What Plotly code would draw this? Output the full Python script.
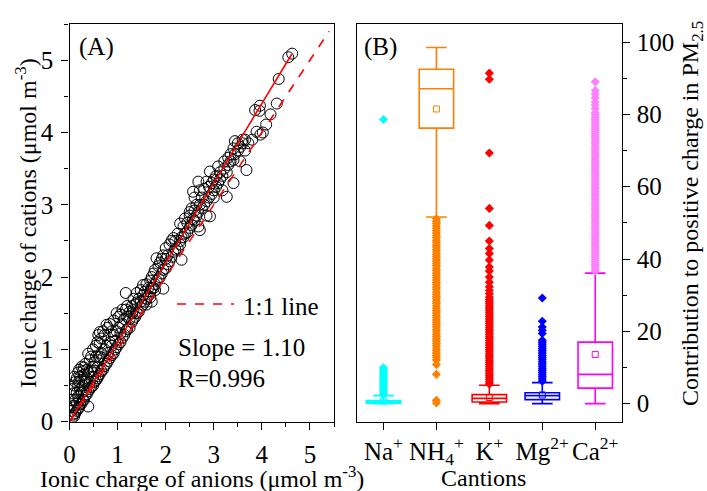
import plotly.graph_objects as go

# ---------------- Panel A data ----------------
anion = [0.05,0.05,0.05,0.05, 0.08,0.08,0.08, 0.1,0.1,0.1,0.1, 0.12,0.12,0.12, 0.15,0.15,0.15,0.15,
         0.18,0.18,0.18,0.18, 0.2,0.2,0.2,0.2, 0.22,0.22,0.22, 0.25,0.25,0.25,0.25, 0.28,0.28,0.28,
         0.3,0.3,0.3,0.3, 0.33,0.33,0.33, 0.36,0.36,0.36, 0.39,0.39,0.39,0.39, 0.42,0.42,0.42,
         0.45,0.45,0.45, 0.49,0.49,0.49,0.49, 0.52,0.52,0.52, 0.55,0.55,0.55, 0.58,0.58,0.58,
         0.6,0.6,0.6, 0.63,0.63,0.63,0.63, 0.66,0.66,0.66, 0.7,0.7,0.7, 0.73,0.73,0.73,
         0.77,0.77,0.77, 0.8,0.8,0.8, 0.84,0.84,0.84, 0.88,0.88,0.88, 0.92,0.92,0.92, 0.95,0.95,
         0.98,0.98,0.98, 1.02,1.02,1.02, 1.06,1.06,1.06, 1.1,1.1,1.1, 1.14,1.14, 1.17,1.17,1.17,
         1.2,1.2,1.2, 1.25,1.25,1.25, 1.3,1.3,1.3, 1.33,1.33,1.33, 1.37,1.37, 1.4,1.4,1.4,
         1.44,1.44, 1.48,1.48,1.48, 1.53,1.53,1.53, 1.57,1.57, 1.6,1.6,1.6, 1.64,1.64,
         1.68,1.68,1.68, 1.71,1.71,1.71, 1.75,1.75, 1.78,1.78,1.78, 1.81,1.81, 1.85,1.85,
         1.88,1.88, 1.92,1.92, 1.95,1.95,1.95, 2.0,2.0,2.0, 2.04,2.04, 2.08,2.08, 2.12,2.12,
         2.16,2.16, 2.2,2.2, 2.25,2.25, 2.3,2.3,2.3, 2.33,2.33, 2.37,2.37, 2.4,2.4, 2.45,2.45,
         2.5,2.5,2.5, 2.54,2.54, 2.57,2.57, 2.6,2.6,2.6, 2.64,2.64, 2.68,2.68,2.68, 2.71,2.71,2.71,
         2.75,2.75, 2.8,2.8, 2.85,2.85,2.85, 2.9,2.9, 2.92,2.92, 2.96,2.96, 3.0,3.0,3.0,
         3.05,3.05, 3.09,3.09, 3.13,3.13, 3.18,3.18, 3.22,3.22, 3.27,3.27, 3.3,3.3, 3.35,3.35,
         3.41,3.41,3.41, 3.44,3.44, 3.5,3.5, 3.55,3.55, 3.6,3.6, 3.65,3.65, 3.68, 3.72, 3.8,
         3.86, 3.89, 3.95, 3.96, 3.97, 4.02, 4.09, 4.18, 4.31, 4.35, 4.55, 4.63]
cation = [0.05,0.15,0.3,0.45, 0.1,0.39,0.22, 0.08,0.2,0.5,0.62, 0.12,0.3,0.55, 0.15,0.6,0.4,0.25,
          0.18,0.35,0.68,0.5, 0.2,0.3,0.55,0.72, 0.24,0.45,0.62, 0.25,0.76,0.4,0.58, 0.3,0.5,0.7,
          0.3,0.42,0.65,0.75, 0.36,0.55,0.8, 0.38,0.6,0.72, 0.21,0.42,0.94,0.68, 0.45,0.55,0.85,
          0.48,0.7,0.9, 0.5,0.76,0.62,1.0, 0.55,0.82,0.7, 0.57,0.9,1.05, 0.6,0.75,1.1,
          0.63,0.85,1.2, 0.66,1.08,1.24,0.9, 0.7,0.95,1.15, 0.72,0.88,1.25, 0.77,1.0,1.2,
          0.8,1.34,1.05, 0.84,0.95,1.3, 0.88,1.1,1.35, 0.92,1.05,1.25, 0.95,1.2,1.4, 1.0,1.12,
          1.03,1.5,1.25, 1.07,1.3,1.45, 1.1,1.22,1.48, 1.16,1.35,1.55, 1.2,1.42, 1.78,1.25,1.55,
          1.28,1.45,1.6, 1.3,1.52,1.42, 1.38,1.6,1.5, 1.54,1.42,1.7, 1.45,1.62, 1.78,1.5,1.65,
          1.52,1.7, 1.58,1.82,1.66, 1.89,1.62,1.75, 1.66,1.8, 1.7,1.9,1.62, 1.74,1.85,
          1.8,1.95,1.72, 1.66,1.85,2.0, 1.85,2.05, 1.9,2.1,1.82, 2.26,1.95, 1.98,2.15,
          2.0,2.2, 2.05,2.25, 1.84,2.1,2.3, 2.12,2.4,2.25, 2.18,2.3, 2.22,2.45, 2.28,2.5,
          2.54,2.35, 2.38,2.5, 2.4,2.6, 2.74,2.5,2.45, 2.24,2.55, 2.55,2.7, 2.81,2.6, 2.62,2.75,
          2.68,2.85,2.9, 2.72,2.95, 3.18,2.8, 2.78,2.92,3.1, 2.85,3.0, 3.32,2.9,2.7, 2.65,3.0,3.2,
          2.95,3.1, 3.0,3.22, 3.32,3.05,2.85, 3.1,3.25, 2.84,3.46, 3.15,3.3, 3.2,3.35,3.1,
          3.25,3.4, 3.53,3.3, 3.35,3.45, 3.4,3.2, 3.5,3.6, 3.11,3.45, 3.55,3.65, 3.6,3.7,
          3.3,3.78,3.62, 3.88,3.7, 3.75,3.85, 3.8,3.6, 3.85,3.9, 3.9,3.75, 3.48, 3.85, 3.9,
          4.31, 4.01, 4.3, 4.37, 3.97, 4.0, 4.11, 4.25, 4.40, 4.74, 5.04, 5.09]
slope = 1.10
fit_x = [0, 4.62]
one_x = [0, 5.4]

# ---------------- Panel B data ----------------
cats = ["Na+", "NH4+", "K+", "Mg2+", "Ca2+"]
cat_labels = ["Na<sup>+</sup>", "NH<sub>4</sub><sup>+</sup>", "K<sup>+</sup>",
              "Mg<sup>2+</sup>", "Ca<sup>2+</sup>"]
q1 = [0.15, 76.2, 0.45, 1.1, 4.3]
med = [0.45, 87.1, 1.45, 2.2, 8.1]
q3 = [0.85, 92.5, 2.5, 3.0, 17.0]
lo = [0.0, 51.6, 0.0, 0.0, 0.0]
hi = [2.2, 98.5, 5.1, 5.8, 36.1]
means = [0.7, 81.5, 1.7, 2.4, 13.6]
box_colors = ["#00FFFF", "#FF8000", "#FF0000", "#0000FF", "#FF00FF"]
out_colors = ["#00FFFF", "#FF8000", "#FF0000", "#0000FF", "#FF80FF"]
outliers = [
    [2.4, 2.9, 3.4, 3.9, 4.4, 4.9, 5.4, 5.9, 6.4, 6.9, 7.4, 7.9, 8.4, 8.9, 9.4, 9.9, 78.6],
    [0.2, 0.9, 8.1, 10.8, 12.1, 12.8, 13.4, 14.0, 14.7, 15.3, 16.0, 16.6, 17.3, 17.9, 18.6,
     19.2, 19.9, 20.5, 21.2, 21.8, 22.5, 23.1, 23.8, 24.4, 25.1, 25.7, 26.4, 27.0, 27.7, 28.3,
     29.0, 29.6, 30.3, 30.9, 31.6, 32.2, 32.9, 33.5, 34.2, 34.8, 35.5, 36.1, 36.8, 37.4, 38.1,
     38.7, 39.4, 40.0, 40.7, 41.3, 42.0, 42.6, 43.3, 43.9, 44.6, 45.2, 45.9, 46.5, 47.2, 47.8,
     48.5, 49.1, 49.8, 50.4, 51.1],
    [5.4, 6.0, 6.6, 7.2, 7.8, 8.4, 9.0, 9.6, 10.2, 10.8, 11.4, 12.0, 12.6, 13.2, 13.8, 14.4,
     15.0, 15.6, 16.2, 16.8, 17.4, 18.0, 18.6, 19.2, 19.8, 20.4, 21.0, 21.6, 22.2, 22.8, 23.4,
     24.0, 24.6, 25.2, 25.8, 26.4, 27.0, 27.6, 28.2, 28.8, 29.5, 30.4, 31.3, 32.3, 33.6, 35.0,
     36.7, 37.8, 39.7, 41.5, 42.9, 45.0, 49.3, 54.0, 69.3, 89.7, 91.4],
    [6.2, 6.8, 7.4, 8.0, 8.6, 9.2, 9.8, 10.4, 11.0, 11.6, 12.2, 12.8, 13.4, 14.0, 14.6, 15.2,
     15.8, 16.4, 17.0, 17.5, 19.4, 20.3, 21.2, 22.8, 29.2],
    [36.6, 37.2, 37.8, 38.4, 39.0, 39.6, 40.2, 40.8, 41.4, 42.0, 42.6, 43.2, 43.8, 44.4, 45.0,
     45.6, 46.2, 46.8, 47.4, 48.0, 48.6, 49.2, 49.8, 50.4, 51.0, 51.6, 52.2, 52.8, 53.4, 54.0,
     54.6, 55.2, 55.8, 56.4, 57.0, 57.6, 58.2, 58.8, 59.4, 60.0, 60.6, 61.2, 61.8, 62.4, 63.0,
     63.6, 64.2, 64.8, 65.4, 66.0, 66.6, 67.2, 67.8, 68.4, 69.0, 69.6, 70.2, 70.8, 71.4, 72.0,
     72.6, 73.2, 73.8, 74.4, 75.0, 75.6, 76.2, 76.8, 77.4, 78.0, 78.6, 79.2, 79.8, 80.5, 81.6,
     82.6, 83.4, 84.6, 85.6, 86.6, 89.0],
]

FONT = "Liberation Serif"
fig = go.Figure()

# Panel A
fig.add_trace(go.Scatter(x=anion, y=cation, mode="markers", xaxis="x", yaxis="y",
                         marker=dict(symbol="circle-open", size=11, color="black",
                                     line=dict(width=1, color="black")),
                         showlegend=False))
fig.add_trace(go.Scatter(x=one_x, y=one_x, mode="lines", xaxis="x", yaxis="y",
                         line=dict(color="#FF0000", width=1.6, dash="dash"), showlegend=False))
fig.add_trace(go.Scatter(x=fit_x, y=[slope * v for v in fit_x], mode="lines", xaxis="x", yaxis="y",
                         line=dict(color="#FF0000", width=1.6), showlegend=False))

# Panel B
for i, c in enumerate(cats):
    fig.add_trace(go.Scatter(x=[c] * len(outliers[i]), y=outliers[i], mode="markers",
                             xaxis="x2", yaxis="y2",
                             marker=dict(symbol="diamond", size=7, color=out_colors[i]),
                             showlegend=False))
for i, c in enumerate(cats):
    fig.add_trace(go.Box(x=[c], q1=[q1[i]], median=[med[i]], q3=[q3[i]],
                         lowerfence=[lo[i]], upperfence=[hi[i]], boxpoints=False,
                         xaxis="x2", yaxis="y2", width=0.65, whiskerwidth=0.6,
                         line=dict(color=box_colors[i], width=1.6),
                         fillcolor="rgba(0,0,0,0)", showlegend=False))
    fig.add_trace(go.Scatter(x=[c], y=[means[i]], mode="markers", xaxis="x2", yaxis="y2",
                             marker=dict(symbol="square-open", size=6, color=box_colors[i],
                                         line=dict(width=1)),
                             showlegend=False))

axis_common = dict(showline=True, linecolor="black", linewidth=1.3, mirror=True,
                   ticks="outside", ticklen=7, tickwidth=1.3, tickcolor="black",
                   showgrid=False, zeroline=False, automargin=False, tickangle=0,
                   tickfont=dict(family=FONT, size=25, color="black"))

fig.update_layout(
    width=707, height=491, margin=dict(l=0, r=0, t=0, b=0),
    paper_bgcolor="white", plot_bgcolor="white", boxmode="overlay",
    xaxis=dict(domain=[69.5 / 707, 334 / 707], range=[0, 5.5], anchor="y", dtick=1, tick0=0,
               ticklabelstandoff=3,
               minor=dict(ticks="outside", ticklen=4, dtick=0.5, tickcolor="black", tickwidth=1.3),
               **axis_common),
    yaxis=dict(domain=[1 - 421.7 / 491, 1 - 24 / 491], range=[0, 5.5], anchor="x", dtick=1, tick0=0,
               ticklabelstandoff=3,
               minor=dict(ticks="outside", ticklen=4, dtick=0.5, tickcolor="black", tickwidth=1.3),
               **axis_common),
    xaxis2=dict(domain=[357 / 707, 621.7 / 707], anchor="y2", type="category",
                categoryorder="array", categoryarray=cats, range=[-0.5, 4.5],
                tickvals=cats, ticktext=cat_labels, ticklabelstandoff=0, **axis_common),
    yaxis2=dict(domain=[1 - 421.7 / 491, 1 - 24 / 491], anchor="x2", side="right",
                range=[-5, 105], dtick=20, tick0=0, ticklabelstandoff=2,
                minor=dict(ticks="outside", ticklen=4, dtick=10, tickcolor="black", tickwidth=1.3),
                **axis_common),
)

def ann(text, x, y, size=25, angle=0, xanchor="center"):
    fig.add_annotation(text=text, x=x / 707, y=1 - y / 491, xref="paper", yref="paper",
                       showarrow=False, textangle=angle, xanchor=xanchor, yanchor="middle",
                       font=dict(family=FONT, size=size, color="black"))

ann("(A)", 96, 47)
ann("(B)", 380, 47)
ann("1:1 line", 241, 306, xanchor="left")
ann("Slope = 1.10", 176, 347, xanchor="left")
ann("R=0.996", 176, 378, xanchor="left")
ann("Ionic charge of anions (μmol m<sup>-3</sup>)", 202, 477, size=24)
ann("Cantions", 483, 478, size=24)
ann("Ionic charge of cations (μmol m<sup>-3</sup>)", 26, 223, size=24, angle=-90)
ann("Contribution to positive charge in PM<sub>2.5</sub>", 692, 214, size=24, angle=-90)

fig.add_shape(type="line", x0=177 / 707, x1=234 / 707, y0=1 - 304 / 491, y1=1 - 304 / 491,
              xref="paper", yref="paper", line=dict(color="#FF0000", width=1.6, dash="dash"))

fig.write_html("out.html")
